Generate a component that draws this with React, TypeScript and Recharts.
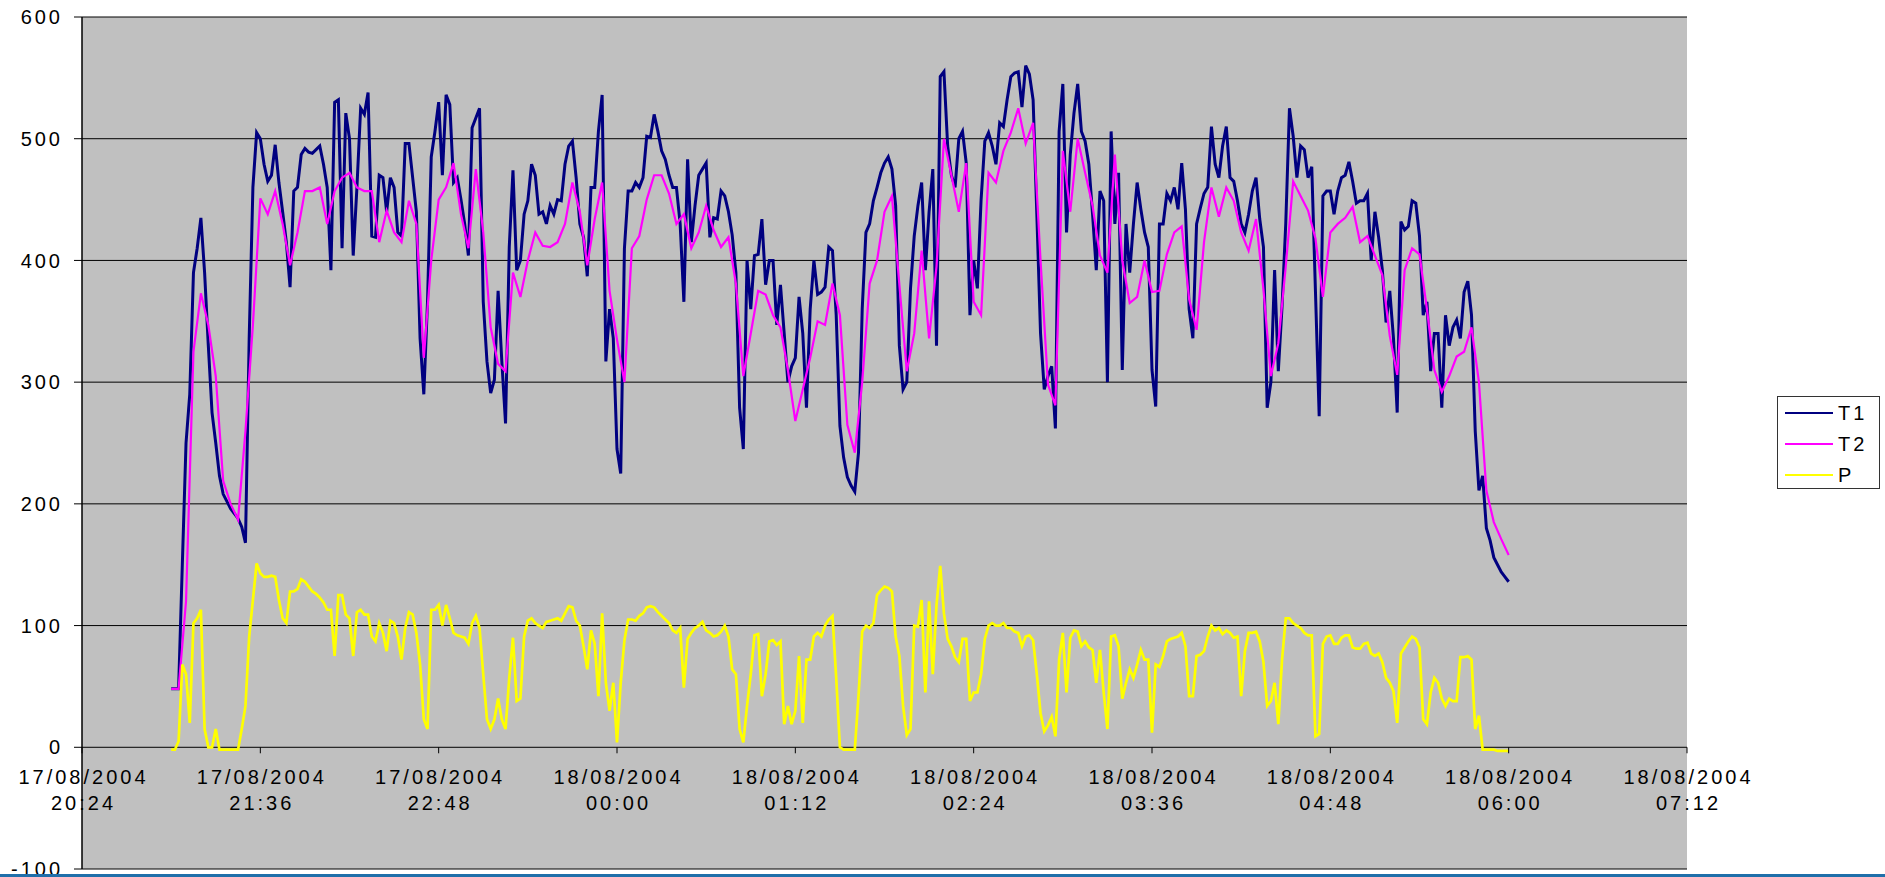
import { CartesianGrid, Legend, Line, LineChart, XAxis, YAxis } from "recharts";

// minutes after 17/08/2004 20:24; T1 and P were read every 1.5 min, T2 every 3 min
const fineMinutes = [
  36, 37.5, 39, 40.5, 42, 43.5, 45, 46.5, 48, 49.5, 51, 52.5,
  54, 55.5, 57, 58.5, 60, 61.5, 63, 64.5, 66, 67.5, 69, 70.5,
  72, 73.5, 75, 76.5, 78, 79.5, 81, 82.5, 84, 85.5, 87, 88.5,
  90, 91.5, 93, 94.5, 96, 97.5, 99, 100.5, 102, 103.5, 105, 106.5,
  108, 109.5, 111, 112.5, 114, 115.5, 117, 118.5, 120, 121.5, 123, 124.5,
  126, 127.5, 129, 130.5, 132, 133.5, 135, 136.5, 138, 139.5, 141, 142.5,
  144, 145.5, 147, 148.5, 150, 151.5, 153, 154.5, 156, 157.5, 159, 160.5,
  162, 163.5, 165, 166.5, 168, 169.5, 171, 172.5, 174, 175.5, 177, 178.5,
  180, 181.5, 183, 184.5, 186, 187.5, 189, 190.5, 192, 193.5, 195, 196.5,
  198, 199.5, 201, 202.5, 204, 205.5, 207, 208.5, 210, 211.5, 213, 214.5,
  216, 217.5, 219, 220.5, 222, 223.5, 225, 226.5, 228, 229.5, 231, 232.5,
  234, 235.5, 237, 238.5, 240, 241.5, 243, 244.5, 246, 247.5, 249, 250.5,
  252, 253.5, 255, 256.5, 258, 259.5, 261, 262.5, 264, 265.5, 267, 268.5,
  270, 271.5, 273, 274.5, 276, 277.5, 279, 280.5, 282, 283.5, 285, 286.5,
  288, 289.5, 291, 292.5, 294, 295.5, 297, 298.5, 300, 301.5, 303, 304.5,
  306, 307.5, 309, 310.5, 312, 313.5, 315, 316.5, 318, 319.5, 321, 322.5,
  324, 325.5, 327, 328.5, 330, 331.5, 333, 334.5, 336, 337.5, 339, 340.5,
  342, 343.5, 345, 346.5, 348, 349.5, 351, 352.5, 354, 355.5, 357, 358.5,
  360, 361.5, 363, 364.5, 366, 367.5, 369, 370.5, 372, 373.5, 375, 376.5,
  378, 379.5, 381, 382.5, 384, 385.5, 387, 388.5, 390, 391.5, 393, 394.5,
  396, 397.5, 399, 400.5, 402, 403.5, 405, 406.5, 408, 409.5, 411, 412.5,
  414, 415.5, 417, 418.5, 420, 421.5, 423, 424.5, 426, 427.5, 429, 430.5,
  432, 433.5, 435, 436.5, 438, 439.5, 441, 442.5, 444, 445.5, 447, 448.5,
  450, 451.5, 453, 454.5, 456, 457.5, 459, 460.5, 462, 463.5, 465, 466.5,
  468, 469.5, 471, 472.5, 474, 475.5, 477, 478.5, 480, 481.5, 483, 484.5,
  486, 487.5, 489, 490.5, 492, 493.5, 495, 496.5, 498, 499.5, 501, 502.5,
  504, 505.5, 507, 508.5, 510, 511.5, 513, 514.5, 516, 517.5, 519, 520.5,
  522, 523.5, 525, 526.5, 528, 529.5, 531, 532.5, 534, 535.5, 537, 538.5,
  540, 541.5, 543, 544.5, 546, 547.5, 549, 550.5, 552, 553.5, 555, 556.5,
  558, 559.5, 561, 562.5, 564, 565.5, 567, 568.5, 570, 571.5, 573, 574.5,
  576,
];

const coarseMinutes = [
  36, 39, 42, 45, 48, 51, 54, 57, 60, 63, 66, 69,
  72, 75, 78, 81, 84, 87, 90, 93, 96, 99, 102, 105,
  108, 111, 114, 117, 120, 123, 126, 129, 132, 135, 138, 141,
  144, 147, 150, 153, 156, 159, 162, 165, 168, 171, 174, 177,
  180, 183, 186, 189, 192, 195, 198, 201, 204, 207, 210, 213,
  216, 219, 222, 225, 228, 231, 234, 237, 240, 243, 246, 249,
  252, 255, 258, 261, 264, 267, 270, 273, 276, 279, 282, 285,
  288, 291, 294, 297, 300, 303, 306, 309, 312, 315, 318, 321,
  324, 327, 330, 333, 336, 339, 342, 345, 348, 351, 354, 357,
  360, 363, 366, 369, 372, 375, 378, 381, 384, 387, 390, 393,
  396, 399, 402, 405, 408, 411, 414, 417, 420, 423, 426, 429,
  432, 435, 438, 441, 444, 447, 450, 453, 456, 459, 462, 465,
  468, 471, 474, 477, 480, 483, 486, 489, 492, 495, 498, 501,
  504, 507, 510, 513, 516, 519, 522, 525, 528, 531, 534, 537,
  540, 543, 546, 549, 552, 555, 558, 561, 564, 567, 570, 573,
  576,
];

const t1 = [
  48, 48, 48, 150, 250, 290, 390, 410, 435, 390, 330, 275,
  250, 223, 208, 202, 196, 192, 188, 181, 168, 336, 460, 505,
  500, 479, 465, 470, 495, 464, 440, 415, 378, 457, 460, 487,
  492, 489, 488, 491, 494, 479, 460, 392, 530, 532, 410, 521,
  500, 404, 460, 525, 520, 538, 420, 419, 470, 468, 440, 468,
  460, 423, 420, 496, 496, 468, 440, 336, 290, 366, 485, 506,
  530, 470, 536, 528, 464, 468, 450, 430, 404, 509, 517, 525,
  366, 317, 291, 302, 375, 317, 266, 411, 474, 392, 400, 438,
  449, 479, 470, 438, 440, 430, 445, 438, 450, 449, 479, 494,
  498, 468, 430, 419, 387, 460, 460, 506, 536, 317, 360, 336,
  245, 225, 410, 457, 457, 464, 460, 468, 502, 501, 520, 506,
  490, 483, 470, 460, 460, 430, 366, 483, 415, 445, 470, 475,
  480, 419, 435, 434, 457, 453, 440, 421, 390, 279, 245, 400,
  360, 404, 405, 434, 380, 400, 400, 347, 380, 340, 300, 313,
  320, 370, 340, 279, 360, 400, 372, 374, 378, 411, 408, 355,
  264, 238, 222, 215, 210, 242, 360, 423, 430, 449, 460, 472,
  480, 485, 475, 445, 330, 294, 300, 377, 420, 445, 464, 392,
  440, 475, 330, 551, 555, 494, 470, 460, 500, 506, 480, 355,
  400, 377, 450, 498, 505, 494, 479, 513, 510, 532, 551, 554,
  555, 526, 560, 553, 532, 438, 340, 294, 305, 313, 262, 506,
  545, 423, 487, 521, 545, 506, 498, 479, 438, 392, 457, 449,
  300, 506, 430, 472, 310, 430, 390, 430, 464, 442, 423, 411,
  310, 280, 430, 430, 455, 449, 460, 442, 480, 442, 360, 336,
  430, 443, 455, 460, 510, 479, 468, 494, 510, 468, 465, 449,
  430, 423, 438, 457, 468, 434, 411, 279, 300, 392, 309, 362,
  430, 525, 502, 468, 494, 491, 468, 477, 374, 272, 453, 457,
  457, 438, 457, 468, 470, 481, 465, 447, 449, 449, 455, 400,
  440, 419, 392, 349, 375, 336, 275, 432, 425, 428, 449, 447,
  420, 355, 366, 309, 340, 340, 279, 355, 330, 345, 351, 336,
  374, 383, 355, 260, 211, 223, 180, 170, 156, 150, 144, 140,
  136,
];

const t2 = [
  48, 48, 120, 325, 373, 347, 305, 219, 200, 187, 260, 347,
  451, 438, 457, 430, 396, 423, 457, 457, 460, 430, 457, 468,
  472, 460, 457, 457, 415, 441, 423, 415, 449, 430, 320, 400,
  450, 460, 480, 438, 410, 475, 423, 345, 315, 309, 390, 370,
  400, 423, 412, 411, 415, 430, 464, 440, 396, 434, 464, 375,
  335, 300, 410, 420, 450, 470, 470, 455, 430, 438, 410, 423,
  445, 425, 411, 419, 381, 305, 340, 375, 372, 355, 345, 310,
  268, 294, 320, 350, 347, 381, 355, 265, 242, 300, 381, 400,
  440, 453, 380, 309, 340, 408, 336, 395, 500, 470, 440, 480,
  366, 355, 472, 464, 490, 505, 525, 496, 513, 400, 298, 281,
  490, 440, 500, 472, 445, 404, 390, 487, 400, 365, 370, 400,
  374, 375, 405, 423, 428, 368, 343, 415, 460, 436, 460, 449,
  423, 408, 434, 376, 305, 332, 395, 465, 453, 441, 418, 370,
  423, 430, 435, 444, 415, 420, 404, 388, 338, 306, 392, 410,
  405, 360, 310, 292, 305, 321, 325, 345, 300, 211, 185, 171,
  158,
];

const p = [
  -2, -2, 5, 68, 60, 20, 102, 106, 113, 15, 0, 0,
  15, -2, -2, -2, -2, -2, -2, 15, 34, 91, 121, 151,
  143, 140, 140, 141, 140, 121, 106, 102, 128, 128, 130, 138,
  136, 132, 128, 126, 123, 119, 113, 113, 75, 125, 125, 109,
  106, 75, 111, 113, 109, 109, 91, 87, 102, 94, 79, 104,
  102, 91, 72, 98, 111, 109, 94, 68, 23, 15, 113, 113,
  117, 100, 117, 106, 94, 92, 91, 90, 85, 102, 108, 98,
  60, 23, 15, 23, 40, 23, 15, 57, 90, 38, 40, 91,
  104, 106, 102, 100, 98, 103, 104, 105, 106, 104, 110, 116,
  115, 104, 100, 83, 64, 96, 85, 42, 110, 53, 30, 53,
  4, 53, 88, 105, 105, 104, 108, 110, 115, 116, 115, 111,
  108, 105, 102, 96, 94, 98, 49, 89, 94, 98, 100, 103,
  96, 94, 91, 92, 95, 100, 91, 64, 60, 15, 4, 34,
  60, 92, 93, 42, 60, 87, 88, 84, 87, 19, 34, 19,
  30, 75, 20, 72, 72, 91, 94, 91, 100, 105, 108, 57,
  0, -2, -2, -2, -2, 42, 95, 100, 98, 102, 125, 129,
  132, 131, 128, 91, 75, 34, 10, 15, 100, 99, 121, 45,
  120, 60, 117, 149, 110, 89, 83, 74, 70, 89, 89, 38,
  45, 45, 60, 89, 100, 102, 100, 100, 102, 98, 98, 95,
  94, 83, 91, 92, 88, 60, 28, 13, 18, 25, 9, 72,
  94, 45, 90, 96, 95, 83, 87, 82, 80, 53, 80, 45,
  15, 91, 92, 83, 40, 53, 64, 57, 68, 80, 72, 72,
  12, 68, 66, 75, 87, 89, 90, 91, 94, 83, 42, 42,
  75, 76, 79, 91, 100, 96, 98, 93, 96, 94, 90, 91,
  42, 79, 94, 94, 95, 87, 70, 34, 38, 53, 19, 72,
  106, 106, 102, 100, 98, 94, 92, 92, 9, 11, 85, 91,
  92, 85, 85, 90, 92, 92, 82, 81, 81, 85, 86, 77,
  75, 77, 70, 57, 53, 46, 20, 77, 82, 87, 91, 89,
  82, 23, 19, 45, 57, 53, 40, 34, 40, 38, 38, 74,
  74, 75, 72, 15, 26, -2, -2, -2, -2, -3, -3, -3,
  -3,
];

const xTicks = [0, 72, 144, 216, 288, 360, 432, 504, 576, 648];
const xTickLabels = [
  ["17/08/2004", "20:24"],
  ["17/08/2004", "21:36"],
  ["17/08/2004", "22:48"],
  ["18/08/2004", "00:00"],
  ["18/08/2004", "01:12"],
  ["18/08/2004", "02:24"],
  ["18/08/2004", "03:36"],
  ["18/08/2004", "04:48"],
  ["18/08/2004", "06:00"],
  ["18/08/2004", "07:12"],
];
const yTicks = [-100, 0, 100, 200, 300, 400, 500, 600];

const t1Data = fineMinutes.map((t, i) => ({ t, T1: t1[i] }));
const t2Data = coarseMinutes.map((t, i) => ({ t, T2: t2[i] }));
const pData = fineMinutes.map((t, i) => ({ t, P: p[i] }));

const series = [
  { key: "T1", color: "#000080", width: 3, data: t1Data },
  { key: "T2", color: "#FF00FF", width: 2.2, data: t2Data },
  { key: "P", color: "#FFFF00", width: 2.7, data: pData },
];

const W = 1885;
const H = 877;
const margin = { top: 17, right: 198, bottom: 0, left: 0 };
const xAxisH = 8;
const plotH = H - margin.top - margin.bottom - xAxisH;
// the time labels hang off the y = 0 line, not the bottom of the plot
const zeroOffset = (plotH * 100) / 700;
const font = '"Liberation Sans", Arial, sans-serif';
const textStyle = { fontFamily: font, fontSize: 20, letterSpacing: 3, fill: "#000" };

function TimeTick(props: any) {
  const { x, y, payload } = props;
  const i = xTicks.indexOf(payload.value);
  const [day, hour] = xTickLabels[i] || ["", ""];
  const y0 = y - zeroOffset;
  return (
    <g>
      <line x1={x} x2={x} y1={y0} y2={y0 + 6} stroke="#000" strokeWidth={1} />
      <text x={x + 1.5} y={y0 + 37} textAnchor="middle" style={textStyle}>
        {day}
      </text>
      <text x={x + 1.5} y={y0 + 63} textAnchor="middle" style={textStyle}>
        {hour}
      </text>
    </g>
  );
}

function ValueTick(props: any) {
  const { x, y, payload } = props;
  return (
    <text x={x + 3} y={y} dy="0.36em" textAnchor="end" style={textStyle}>
      {payload.value}
    </text>
  );
}

function LegendBox() {
  return (
    <div
      style={{
        width: 101,
        height: 91,
        border: "1px solid #333",
        background: "#fff",
        fontFamily: font,
        fontSize: 20,
        color: "#000",
      }}
    >
      {series.map((s) => (
        <div
          key={s.key}
          style={{ height: 31, display: "flex", alignItems: "center", paddingLeft: 7 }}
        >
          <svg width={48} height={4} style={{ display: "block" }}>
            <line x1={0} x2={48} y1={2} y2={2} stroke={s.color} strokeWidth={2} />
          </svg>
          <span style={{ marginLeft: 5, letterSpacing: 3, lineHeight: "20px" }}>{s.key}</span>
        </div>
      ))}
    </div>
  );
}

export default function App() {
  return (
    <div style={{ position: "absolute", left: 0, top: 0, width: W, height: H, background: "#fff" }}>
      <LineChart width={W} height={H} data={t2Data} margin={margin}>
        <CartesianGrid vertical={false} stroke="#000" fill="#C0C0C0" fillOpacity={1} />
        <XAxis
          dataKey="t"
          type="number"
          domain={[0, 648]}
          ticks={xTicks}
          interval={0}
          height={xAxisH}
          axisLine={false}
          tickLine={false}
          tickSize={0}
          tickMargin={0}
          tick={TimeTick}
        />
        <XAxis
          xAxisId="top"
          orientation="top"
          height={0}
          tick={false}
          tickLine={false}
          axisLine={{ stroke: "#808080", strokeWidth: 2 }}
        />
        <YAxis
          type="number"
          domain={[-100, 600]}
          ticks={yTicks}
          interval={0}
          width={82}
          tickSize={8}
          tickMargin={14}
          axisLine={{ stroke: "#000", strokeWidth: 1.5 }}
          tickLine={{ stroke: "#000" }}
          tick={ValueTick}
        />
        <YAxis
          yAxisId="right"
          orientation="right"
          width={0}
          tick={false}
          tickLine={false}
          axisLine={{ stroke: "#808080", strokeWidth: 2 }}
        />
        {series.map((s) => (
          <Line
            key={s.key}
            data={s.data}
            dataKey={s.key}
            name={s.key}
            type="linear"
            stroke={s.color}
            strokeWidth={s.width}
            dot={false}
            activeDot={false}
            isAnimationActive={false}
          />
        ))}
        <Legend
          layout="horizontal"
          verticalAlign="middle"
          align="center"
          content={<LegendBox />}
          wrapperStyle={{ left: 1777, top: 396, width: 103, height: 93 }}
        />
      </LineChart>
      <div style={{ position: "absolute", left: 0, top: 874, width: W, height: 3, background: "#1f6faa" }} />
    </div>
  );
}
